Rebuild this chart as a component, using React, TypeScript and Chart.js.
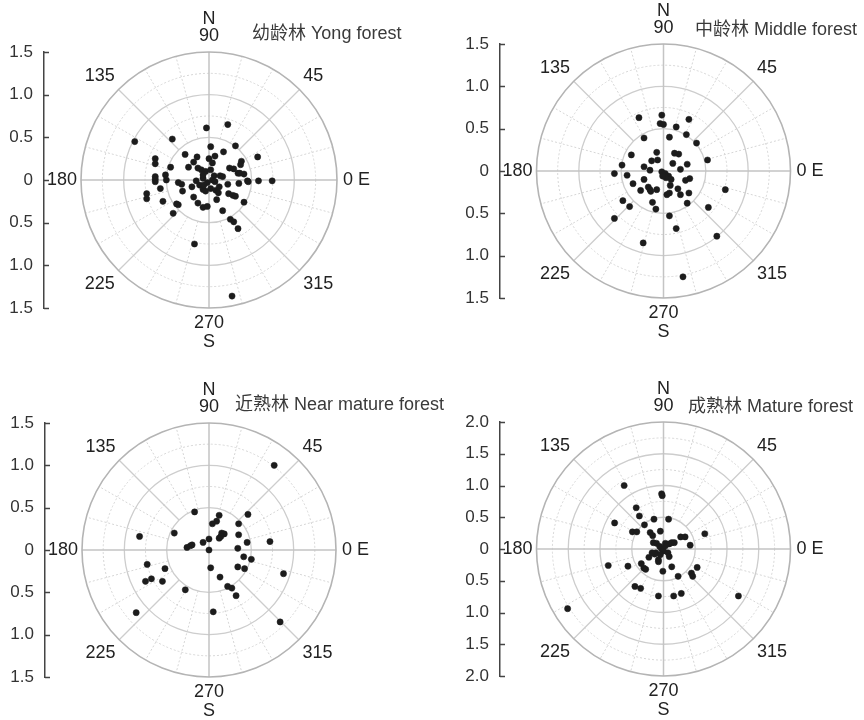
import React, { useEffect, useRef } from "react";
import { Chart, registerables } from "chart.js";

Chart.register(...registerables);

const FONT = "'Liberation Sans', Arial, 'Noto Sans CJK SC', sans-serif";

// ---- data: east (cos) and north (sin) components of each point ----
const youngEast = [-0.87, -0.43, -0.03, 0.22, 0.02, 0.31, -0.63, -0.28, -0.14, 0.0, 0.07, 0.17, 0.57, -0.63, -0.45, -0.18, 0.04, 0.38, 0.37, 0.24, 0.29, 0.34, -0.24, -0.09, -0.04, 0.02, -0.63, -0.51, -0.63, -0.36, -0.32, -0.15, -0.07, 0.06, 0.13, 0.16, 0.22, 0.36, 0.41, 0.45, 0.58, 0.74, -0.57, -0.5, -0.31, -0.2, -0.11, -0.07, -0.04, 0.02, 0.08, 0.11, 0.23, 0.28, -0.73, -0.73, -0.54, -0.36, -0.18, -0.13, -0.07, -0.02, 0.09, 0.16, 0.41, -0.42, 0.25, 0.29, 0.34, -0.17, 0.27, 0.04, -0.02, -0.06, 0.07, 0.12, -0.38, -0.63, -0.13, -0.07, 0.31, 0.46, 0.35];
const youngNorth = [0.45, 0.48, 0.61, 0.65, 0.39, 0.4, 0.25, 0.3, 0.27, 0.25, 0.28, 0.33, 0.27, 0.19, 0.15, 0.21, 0.2, 0.22, 0.18, 0.14, 0.13, 0.08, 0.15, 0.12, 0.1, 0.12, 0.04, 0.06, -0.02, -0.03, -0.05, -0.01, 0.02, 0.05, 0.05, 0.04, -0.05, 0.08, 0.07, -0.01, -0.01, -0.01, -0.1, 0.0, -0.13, -0.08, -0.06, -0.11, -0.13, -0.1, -0.12, -0.15, -0.16, -0.18, -0.16, -0.22, -0.25, -0.29, -0.2, -0.27, -0.32, -0.31, -0.23, -0.36, -0.26, -0.39, -0.46, -0.49, -0.57, -0.75, -1.36, 0.0, -0.03, -0.06, -0.02, -0.08, -0.28, 0.01, 0.14, 0.06, -0.19, -0.02, -0.04];

const middleEast = [-0.29, -0.02, -0.04, 0.0, 0.15, 0.3, -0.23, 0.07, 0.27, 0.39, -0.38, -0.08, 0.13, 0.18, 0.52, -0.49, -0.23, -0.14, -0.07, 0.11, 0.28, -0.58, -0.43, -0.16, -0.02, 0.02, 0.06, 0.2, 0.31, 0.26, -0.23, -0.36, -0.18, -0.27, -0.16, -0.08, 0.08, 0.17, 0.2, 0.3, 0.04, 0.07, 0.73, -0.48, -0.4, -0.13, -0.09, 0.28, 0.53, -0.58, 0.07, 0.15, 0.63, -0.24, 0.23, 0.0, 0.03, 0.09, -0.01, -0.15];
const middleNorth = [0.63, 0.66, 0.56, 0.55, 0.52, 0.61, 0.39, 0.4, 0.43, 0.33, 0.19, 0.22, 0.21, 0.2, 0.13, 0.07, 0.05, 0.12, 0.13, 0.09, 0.08, -0.03, -0.05, 0.01, -0.01, -0.03, -0.06, 0.02, -0.09, -0.11, -0.1, -0.15, -0.19, -0.23, -0.22, -0.22, -0.17, -0.21, -0.28, -0.26, -0.28, -0.26, -0.22, -0.35, -0.42, -0.37, -0.45, -0.38, -0.43, -0.56, -0.53, -0.68, -0.77, -0.85, -1.25, -0.05, -0.08, -0.1, -0.06, -0.24];

const nearMatureEast = [0.77, -0.17, 0.12, 0.46, 0.04, 0.09, 0.35, -0.41, -0.82, 0.15, 0.18, 0.14, 0.12, 0.35, 0.0, 0.72, 0.45, -0.07, -0.2, -0.22, -0.26, 0.0, 0.34, 0.41, 0.5, -0.73, -0.52, 0.02, 0.34, 0.42, 0.88, -0.75, -0.68, -0.55, 0.13, -0.28, 0.22, 0.27, 0.32, -0.86, 0.05, 0.84];
const nearMatureNorth = [1.0, 0.45, 0.41, 0.42, 0.31, 0.34, 0.31, 0.2, 0.16, 0.2, 0.19, 0.16, 0.14, 0.18, 0.13, 0.1, 0.09, 0.09, 0.06, 0.05, 0.03, 0.0, 0.02, -0.08, -0.11, -0.17, -0.22, -0.21, -0.2, -0.22, -0.28, -0.37, -0.34, -0.37, -0.32, -0.47, -0.43, -0.45, -0.54, -0.74, -0.73, -0.85];

const matureEast = [-0.62, -0.03, -0.02, -0.43, -0.38, -0.77, -0.15, 0.08, -0.3, -0.49, -0.42, -0.21, -0.05, -0.17, 0.27, 0.34, 0.65, -0.16, -0.11, 0.03, 0.09, 0.13, 0.17, 0.42, -0.06, -0.03, 0.0, -0.12, -0.14, -0.05, 0.07, 0.09, -0.23, -0.08, -0.08, -0.35, -0.31, -0.28, -0.56, -0.87, 0.13, -0.01, 0.23, 0.44, 0.46, 0.53, -0.45, -0.36, -0.08, 0.16, 0.28, 1.18, -1.51, 0.03, -0.18];
const matureNorth = [1.0, 0.87, 0.84, 0.65, 0.52, 0.41, 0.47, 0.47, 0.38, 0.27, 0.27, 0.26, 0.28, 0.21, 0.19, 0.19, 0.24, 0.1, 0.09, 0.09, 0.08, 0.1, 0.1, 0.06, 0.04, 0.0, -0.03, -0.06, -0.08, -0.09, -0.06, -0.12, -0.13, -0.17, -0.2, -0.23, -0.3, -0.32, -0.27, -0.26, -0.28, -0.35, -0.43, -0.38, -0.43, -0.29, -0.59, -0.62, -0.74, -0.74, -0.7, -0.74, -0.94, 0.05, -0.06];

const angleTickValues = [0, 45, 90, 135, 180, 225, 270, 315];
const angleTickLabels = ["0 E", "45", "90", "135", "180", "225", "270", "315"];
const northLabel = "N";
const southLabel = "S";

const panelTitles = [
  "幼龄林 Yong forest",
  "中龄林 Middle forest",
  "近熟林 Near mature forest",
  "成熟林 Mature forest",
];
const panelRadiusMax = [1.5, 1.5, 1.5, 2.0];
const panelEast = [youngEast, middleEast, nearMatureEast, matureEast];
const panelNorth = [youngNorth, middleNorth, nearMatureNorth, matureNorth];

// ---- layout (canvas-local pixels) ----
const layouts = [
  { left: 0, top: 0, w: 432, cx: 209, cy: 180, R: 128, axisX: 44, titleX: 252, titleY: 34 },
  { left: 432, top: 0, w: 432, cx: 231.5, cy: 171, R: 127, axisX: 68, titleX: 263, titleY: 30 },
  { left: 0, top: 360, w: 480, cx: 209, cy: 190, R: 127, axisX: 45, titleX: 235, titleY: 45 },
  { left: 432, top: 360, w: 432, cx: 231.5, cy: 189, R: 127, axisX: 68, titleX: 256, titleY: 47 },
];

const AXIS_W = 40;
const H = 360;

const polarGrid = {
  id: "polarGrid",
  beforeDatasetsDraw(chart: any, _args: any, opts: any) {
    const { ctx, scales } = chart;
    const xs = scales.x;
    const ys = scales.y;
    const rMax = opts.rMax as number;
    const cx = xs.getPixelForValue(0);
    const cy = ys.getPixelForValue(0);
    const pr = (r: number) => Math.abs(ys.getPixelForValue(r) - cy);
    const R = pr(rMax);
    ctx.save();
    // dotted rings
    ctx.setLineDash([2, 2]);
    ctx.strokeStyle = "#d6d6d6";
    ctx.lineWidth = 1;
    for (let r = 0.75; r < rMax; r += 0.5) {
      ctx.beginPath();
      ctx.arc(cx, cy, pr(r), 0, Math.PI * 2);
      ctx.stroke();
    }
    // dotted spokes every 15 deg
    for (let a = 0; a < 360; a += 15) {
      if (a % 45 === 0) continue;
      const t = (a * Math.PI) / 180;
      const r0 = pr(0.5);
      ctx.beginPath();
      ctx.moveTo(cx + r0 * Math.cos(t), cy - r0 * Math.sin(t));
      ctx.lineTo(cx + R * Math.cos(t), cy - R * Math.sin(t));
      ctx.stroke();
    }
    ctx.setLineDash([]);
    // solid rings
    ctx.strokeStyle = "#cdcdcd";
    ctx.lineWidth = 1.3;
    for (let r = 0.5; r < rMax - 1e-6; r += 0.5) {
      ctx.beginPath();
      ctx.arc(cx, cy, pr(r), 0, Math.PI * 2);
      ctx.stroke();
    }
    // diagonal spokes from r=0.5
    for (let a = 45; a < 360; a += 90) {
      const t = (a * Math.PI) / 180;
      const r0 = pr(0.5);
      ctx.beginPath();
      ctx.moveTo(cx + r0 * Math.cos(t), cy - r0 * Math.sin(t));
      ctx.lineTo(cx + R * Math.cos(t), cy - R * Math.sin(t));
      ctx.stroke();
    }
    // main axes through centre
    ctx.strokeStyle = "#c4c4c4";
    ctx.lineWidth = 1.5;
    ctx.beginPath();
    ctx.moveTo(cx - R, cy);
    ctx.lineTo(cx + R, cy);
    ctx.moveTo(cx, cy - R);
    ctx.lineTo(cx, cy + R);
    ctx.stroke();
    // outer ring
    ctx.strokeStyle = "#b4b4b4";
    ctx.lineWidth = 1.6;
    ctx.beginPath();
    ctx.arc(cx, cy, R, 0, Math.PI * 2);
    ctx.stroke();
    ctx.restore();
  },
  afterDraw(chart: any, _args: any, opts: any) {
    const { ctx, scales, chartArea } = chart;
    const xs = scales.x;
    const ys = scales.y;
    const rMax = opts.rMax as number;
    const cx = xs.getPixelForValue(0);
    const cy = ys.getPixelForValue(0);
    const R = Math.abs(ys.getPixelForValue(rMax) - cy);
    ctx.save();
    // inward tick marks on the left axis
    ctx.strokeStyle = "#444";
    ctx.lineWidth = 1.5;
    ys.ticks.forEach((tk: any) => {
      const yy = Math.round(ys.getPixelForValue(tk.value)) + 0.5;
      ctx.beginPath();
      ctx.moveTo(chartArea.left, yy);
      ctx.lineTo(chartArea.left + 5, yy);
      ctx.stroke();
    });
    // angle labels
    ctx.fillStyle = "#222";
    ctx.font = `18px ${FONT}`;
    ctx.textBaseline = "middle";
    angleTickValues.forEach((a, i) => {
      const text = angleTickLabels[i];
      const t = (a * Math.PI) / 180;
      const c = Math.cos(t);
      const s = Math.sin(t);
      let x = cx;
      let y = cy;
      let align: CanvasTextAlign = "center";
      if (a % 90 === 0) {
        if (c > 0.5) { x = cx + R + 6; align = "left"; }
        else if (c < -0.5) { x = cx - R - 4; align = "right"; }
        else if (s > 0) { y = cy - R - 16; }
        else { y = cy + R + 15; }
      } else {
        x = cx + c * R * 1.04;
        y = cy - s * R * 1.15;
        align = c > 0 ? "left" : "right";
      }
      ctx.textAlign = align;
      ctx.fillText(text, x, y);
    });
    ctx.textAlign = "center";
    ctx.fillText(northLabel, cx, cy - R - 33);
    ctx.fillText(southLabel, cx, cy + R + 34);
    // panel title
    ctx.fillStyle = "#3a3a3a";
    ctx.textAlign = "left";
    ctx.font = `18px ${FONT}`;
    ctx.fillText(opts.title, opts.titleX, opts.titleY);
    ctx.restore();
  },
};

function PolarPanel({ index }: { index: number }) {
  const ref = useRef<HTMLCanvasElement | null>(null);
  useEffect(() => {
    const L = layouts[index];
    const rMax = panelRadiusMax[index];
    const east = panelEast[index];
    const north = panelNorth[index];
    const pts = east.map((e, i) => ({ x: e, y: north[i] }));
    const xr = ((L.cx - L.axisX) / L.R) * rMax;
    const chartRight = 2 * L.cx - L.axisX;
    const chart = new Chart(ref.current as HTMLCanvasElement, {
      type: "scatter",
      data: {
        datasets: [
          {
            data: pts,
            pointRadius: 3.1,
            pointHoverRadius: 3.1,
            pointBackgroundColor: "#1c1c1c",
            pointBorderColor: "#1c1c1c",
            pointBorderWidth: 0.5,
          },
        ],
      },
      options: {
        animation: false,
        responsive: false,
        events: [],
        layout: {
          padding: {
            left: L.axisX - AXIS_W,
            top: L.cy - L.R,
            bottom: H - (L.cy + L.R),
            right: L.w - chartRight,
          },
        },
        plugins: {
          legend: { display: false },
          tooltip: { enabled: false },
          polarGrid: {
            rMax,
            title: panelTitles[index],
            titleX: L.titleX,
            titleY: L.titleY,
          },
        } as any,
        scales: {
          x: { type: "linear", display: false, min: -xr, max: xr },
          y: {
            type: "linear",
            position: "left",
            min: -rMax,
            max: rMax,
            afterFit: (s: any) => {
              s.width = AXIS_W;
            },
            grid: { display: false, drawTicks: false },
            border: { display: true, color: "#444", width: 1.5 },
            ticks: {
              stepSize: 0.5,
              autoSkip: false,
              padding: 11,
              color: "#333",
              font: { family: FONT, size: 17 },
              callback: (v: any) => (Number(v) === 0 ? "0" : Math.abs(Number(v)).toFixed(1)),
            },
          },
        },
      },
      plugins: [polarGrid],
    });
    return () => chart.destroy();
  }, [index]);
  const L = layouts[index];
  return (
    <canvas
      ref={ref}
      width={L.w}
      height={H}
      style={{ position: "absolute", left: L.left, top: L.top, width: L.w, height: H }}
    />
  );
}

export default function App() {
  return (
    <div style={{ position: "absolute", left: 0, top: 0, width: 864, height: 720, background: "#fff" }}>
      {[0, 1, 3, 2].map((i) => (
        <PolarPanel key={i} index={i} />
      ))}
    </div>
  );
}
